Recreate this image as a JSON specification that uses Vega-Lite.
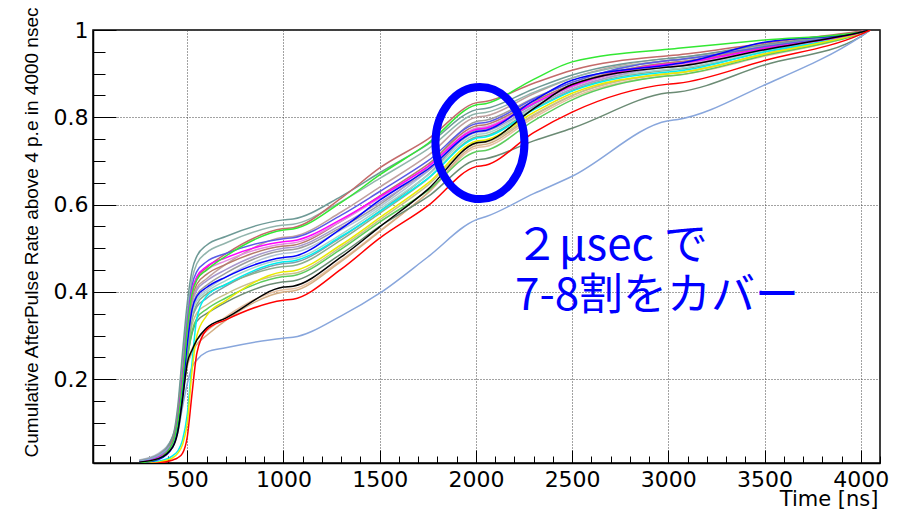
{
"$schema": "https://vega.github.io/schema/vega-lite/v6.json",
"width": 787, "height": 433,
"autosize": {"type": "none"},
"padding": {"left": 93, "top": 30, "right": 25, "bottom": 48},
"background": "white",
"config": {"view": {"stroke": "black", "strokeWidth": 1.5}},
"datasets": {
"curves": [
{"c":"c26","x":250,"y":0.013},{"c":"c26","x":350,"y":0.026},{"c":"c26","x":425,"y":0.065},{"c":"c26","x":450,"y":0.105},{"c":"c26","x":475,"y":0.18},{"c":"c26","x":500,"y":0.27},{"c":"c26","x":525,"y":0.339},{"c":"c26","x":550,"y":0.366},{"c":"c26","x":600,"y":0.385},{"c":"c26","x":700,"y":0.413},{"c":"c26","x":1000,"y":0.465},{"c":"c26","x":1050,"y":0.467},{"c":"c26","x":1300,"y":0.525},{"c":"c26","x":1500,"y":0.585},{"c":"c26","x":1750,"y":0.668},{"c":"c26","x":2000,"y":0.77},{"c":"c26","x":2050,"y":0.773},{"c":"c26","x":2300,"y":0.83},{"c":"c26","x":2500,"y":0.87},{"c":"c26","x":3000,"y":0.92},{"c":"c26","x":3050,"y":0.922},{"c":"c26","x":3500,"y":0.958},{"c":"c26","x":4000,"y":0.995},{"c":"c26","x":4050,"y":1},
{"c":"c25","x":250,"y":0.012},{"c":"c25","x":350,"y":0.024},{"c":"c25","x":425,"y":0.062},{"c":"c25","x":450,"y":0.11},{"c":"c25","x":475,"y":0.2},{"c":"c25","x":500,"y":0.3},{"c":"c25","x":525,"y":0.378},{"c":"c25","x":550,"y":0.409},{"c":"c25","x":600,"y":0.43},{"c":"c25","x":700,"y":0.463},{"c":"c25","x":1000,"y":0.525},{"c":"c25","x":1050,"y":0.527},{"c":"c25","x":1300,"y":0.583},{"c":"c25","x":1500,"y":0.64},{"c":"c25","x":1750,"y":0.712},{"c":"c25","x":2000,"y":0.8},{"c":"c25","x":2050,"y":0.803},{"c":"c25","x":2300,"y":0.854},{"c":"c25","x":2500,"y":0.89},{"c":"c25","x":3000,"y":0.935},{"c":"c25","x":3050,"y":0.937},{"c":"c25","x":3500,"y":0.965},{"c":"c25","x":4000,"y":0.996},{"c":"c25","x":4050,"y":1},
{"c":"c22","x":250,"y":0.012},{"c":"c22","x":350,"y":0.022},{"c":"c22","x":425,"y":0.055},{"c":"c22","x":450,"y":0.09},{"c":"c22","x":475,"y":0.17},{"c":"c22","x":500,"y":0.24},{"c":"c22","x":525,"y":0.27},{"c":"c22","x":550,"y":0.29},{"c":"c22","x":600,"y":0.31},{"c":"c22","x":700,"y":0.343},{"c":"c22","x":1000,"y":0.405},{"c":"c22","x":1050,"y":0.407},{"c":"c22","x":1300,"y":0.473},{"c":"c22","x":1500,"y":0.54},{"c":"c22","x":1750,"y":0.626},{"c":"c22","x":2000,"y":0.73},{"c":"c22","x":2050,"y":0.733},{"c":"c22","x":2300,"y":0.799},{"c":"c22","x":2500,"y":0.845},{"c":"c22","x":3000,"y":0.895},{"c":"c22","x":3050,"y":0.897},{"c":"c22","x":3500,"y":0.94},{"c":"c22","x":4000,"y":0.992},{"c":"c22","x":4050,"y":1},
{"c":"c21","x":250,"y":0.01},{"c":"c21","x":350,"y":0.02},{"c":"c21","x":425,"y":0.05},{"c":"c21","x":450,"y":0.085},{"c":"c21","x":475,"y":0.16},{"c":"c21","x":500,"y":0.23},{"c":"c21","x":525,"y":0.262},{"c":"c21","x":550,"y":0.28},{"c":"c21","x":600,"y":0.3},{"c":"c21","x":700,"y":0.335},{"c":"c21","x":1000,"y":0.4},{"c":"c21","x":1050,"y":0.402},{"c":"c21","x":1300,"y":0.47},{"c":"c21","x":1500,"y":0.538},{"c":"c21","x":1750,"y":0.627},{"c":"c21","x":2000,"y":0.735},{"c":"c21","x":2050,"y":0.738},{"c":"c21","x":2300,"y":0.804},{"c":"c21","x":2500,"y":0.85},{"c":"c21","x":3000,"y":0.9},{"c":"c21","x":3050,"y":0.902},{"c":"c21","x":3500,"y":0.945},{"c":"c21","x":4000,"y":0.993},{"c":"c21","x":4050,"y":1},
{"c":"c18","x":250,"y":0.012},{"c":"c18","x":350,"y":0.024},{"c":"c18","x":425,"y":0.06},{"c":"c18","x":450,"y":0.1},{"c":"c18","x":475,"y":0.18},{"c":"c18","x":500,"y":0.26},{"c":"c18","x":525,"y":0.325},{"c":"c18","x":550,"y":0.352},{"c":"c18","x":600,"y":0.37},{"c":"c18","x":700,"y":0.395},{"c":"c18","x":1000,"y":0.44},{"c":"c18","x":1050,"y":0.442},{"c":"c18","x":1300,"y":0.503},{"c":"c18","x":1500,"y":0.565},{"c":"c18","x":1750,"y":0.644},{"c":"c18","x":2000,"y":0.74},{"c":"c18","x":2050,"y":0.743},{"c":"c18","x":2300,"y":0.806},{"c":"c18","x":2500,"y":0.85},{"c":"c18","x":3000,"y":0.9},{"c":"c18","x":3050,"y":0.902},{"c":"c18","x":3500,"y":0.945},{"c":"c18","x":4000,"y":0.993},{"c":"c18","x":4050,"y":1},
{"c":"c15","x":250,"y":0.01},{"c":"c15","x":350,"y":0.02},{"c":"c15","x":425,"y":0.05},{"c":"c15","x":450,"y":0.09},{"c":"c15","x":475,"y":0.165},{"c":"c15","x":500,"y":0.257},{"c":"c15","x":525,"y":0.34},{"c":"c15","x":550,"y":0.372},{"c":"c15","x":600,"y":0.395},{"c":"c15","x":700,"y":0.417},{"c":"c15","x":1000,"y":0.458},{"c":"c15","x":1050,"y":0.46},{"c":"c15","x":1300,"y":0.519},{"c":"c15","x":1500,"y":0.58},{"c":"c15","x":1750,"y":0.659},{"c":"c15","x":2000,"y":0.755},{"c":"c15","x":2050,"y":0.758},{"c":"c15","x":2300,"y":0.819},{"c":"c15","x":2500,"y":0.862},{"c":"c15","x":3000,"y":0.908},{"c":"c15","x":3050,"y":0.91},{"c":"c15","x":3500,"y":0.95},{"c":"c15","x":4000,"y":0.993},{"c":"c15","x":4050,"y":1},
{"c":"c14","x":250,"y":0.012},{"c":"c14","x":350,"y":0.024},{"c":"c14","x":425,"y":0.062},{"c":"c14","x":450,"y":0.105},{"c":"c14","x":475,"y":0.185},{"c":"c14","x":500,"y":0.28},{"c":"c14","x":525,"y":0.352},{"c":"c14","x":550,"y":0.38},{"c":"c14","x":600,"y":0.4},{"c":"c14","x":700,"y":0.426},{"c":"c14","x":1000,"y":0.474},{"c":"c14","x":1050,"y":0.476},{"c":"c14","x":1300,"y":0.532},{"c":"c14","x":1500,"y":0.59},{"c":"c14","x":1750,"y":0.667},{"c":"c14","x":2000,"y":0.76},{"c":"c14","x":2050,"y":0.763},{"c":"c14","x":2300,"y":0.823},{"c":"c14","x":2500,"y":0.865},{"c":"c14","x":3000,"y":0.91},{"c":"c14","x":3050,"y":0.912},{"c":"c14","x":3500,"y":0.952},{"c":"c14","x":4000,"y":0.993},{"c":"c14","x":4050,"y":1},
{"c":"c12","x":250,"y":0.015},{"c":"c12","x":350,"y":0.03},{"c":"c12","x":425,"y":0.07},{"c":"c12","x":450,"y":0.11},{"c":"c12","x":475,"y":0.19},{"c":"c12","x":500,"y":0.283},{"c":"c12","x":525,"y":0.356},{"c":"c12","x":550,"y":0.385},{"c":"c12","x":600,"y":0.405},{"c":"c12","x":700,"y":0.434},{"c":"c12","x":1000,"y":0.488},{"c":"c12","x":1050,"y":0.49},{"c":"c12","x":1300,"y":0.542},{"c":"c12","x":1500,"y":0.595},{"c":"c12","x":1750,"y":0.676},{"c":"c12","x":2000,"y":0.775},{"c":"c12","x":2050,"y":0.778},{"c":"c12","x":2300,"y":0.835},{"c":"c12","x":2500,"y":0.875},{"c":"c12","x":3000,"y":0.925},{"c":"c12","x":3050,"y":0.927},{"c":"c12","x":3500,"y":0.958},{"c":"c12","x":4000,"y":0.994},{"c":"c12","x":4050,"y":1},
{"c":"c11","x":250,"y":0.014},{"c":"c11","x":350,"y":0.028},{"c":"c11","x":425,"y":0.07},{"c":"c11","x":450,"y":0.115},{"c":"c11","x":475,"y":0.2},{"c":"c11","x":500,"y":0.29},{"c":"c11","x":525,"y":0.365},{"c":"c11","x":550,"y":0.394},{"c":"c11","x":600,"y":0.415},{"c":"c11","x":700,"y":0.443},{"c":"c11","x":1000,"y":0.495},{"c":"c11","x":1050,"y":0.497},{"c":"c11","x":1300,"y":0.548},{"c":"c11","x":1500,"y":0.6},{"c":"c11","x":1750,"y":0.686},{"c":"c11","x":2000,"y":0.79},{"c":"c11","x":2050,"y":0.793},{"c":"c11","x":2300,"y":0.844},{"c":"c11","x":2500,"y":0.88},{"c":"c11","x":3000,"y":0.93},{"c":"c11","x":3050,"y":0.932},{"c":"c11","x":3500,"y":0.96},{"c":"c11","x":4000,"y":0.995},{"c":"c11","x":4050,"y":1},
{"c":"c10","x":250,"y":0.01},{"c":"c10","x":350,"y":0.02},{"c":"c10","x":425,"y":0.056},{"c":"c10","x":450,"y":0.1},{"c":"c10","x":475,"y":0.19},{"c":"c10","x":500,"y":0.298},{"c":"c10","x":525,"y":0.374},{"c":"c10","x":550,"y":0.404},{"c":"c10","x":600,"y":0.425},{"c":"c10","x":700,"y":0.451},{"c":"c10","x":1000,"y":0.5},{"c":"c10","x":1050,"y":0.502},{"c":"c10","x":1300,"y":0.553},{"c":"c10","x":1500,"y":0.605},{"c":"c10","x":1750,"y":0.677},{"c":"c10","x":2000,"y":0.765},{"c":"c10","x":2050,"y":0.768},{"c":"c10","x":2300,"y":0.825},{"c":"c10","x":2500,"y":0.865},{"c":"c10","x":3000,"y":0.915},{"c":"c10","x":3050,"y":0.917},{"c":"c10","x":3500,"y":0.955},{"c":"c10","x":4000,"y":0.993},{"c":"c10","x":4050,"y":1},
{"c":"c08","x":250,"y":0.011},{"c":"c08","x":350,"y":0.023},{"c":"c08","x":425,"y":0.062},{"c":"c08","x":450,"y":0.11},{"c":"c08","x":475,"y":0.2},{"c":"c08","x":500,"y":0.308},{"c":"c08","x":525,"y":0.387},{"c":"c08","x":550,"y":0.418},{"c":"c08","x":600,"y":0.44},{"c":"c08","x":700,"y":0.463},{"c":"c08","x":1000,"y":0.505},{"c":"c08","x":1050,"y":0.507},{"c":"c08","x":1300,"y":0.562},{"c":"c08","x":1500,"y":0.62},{"c":"c08","x":1750,"y":0.692},{"c":"c08","x":2000,"y":0.78},{"c":"c08","x":2050,"y":0.783},{"c":"c08","x":2300,"y":0.837},{"c":"c08","x":2500,"y":0.875},{"c":"c08","x":3000,"y":0.925},{"c":"c08","x":3050,"y":0.927},{"c":"c08","x":3500,"y":0.96},{"c":"c08","x":4000,"y":0.995},{"c":"c08","x":4050,"y":1},
{"c":"c07","x":250,"y":0.01},{"c":"c07","x":350,"y":0.021},{"c":"c07","x":425,"y":0.058},{"c":"c07","x":450,"y":0.105},{"c":"c07","x":475,"y":0.2},{"c":"c07","x":500,"y":0.315},{"c":"c07","x":525,"y":0.396},{"c":"c07","x":550,"y":0.428},{"c":"c07","x":600,"y":0.45},{"c":"c07","x":700,"y":0.471},{"c":"c07","x":1000,"y":0.51},{"c":"c07","x":1050,"y":0.512},{"c":"c07","x":1300,"y":0.562},{"c":"c07","x":1500,"y":0.615},{"c":"c07","x":1750,"y":0.687},{"c":"c07","x":2000,"y":0.775},{"c":"c07","x":2050,"y":0.778},{"c":"c07","x":2300,"y":0.832},{"c":"c07","x":2500,"y":0.87},{"c":"c07","x":3000,"y":0.918},{"c":"c07","x":3050,"y":0.92},{"c":"c07","x":3500,"y":0.956},{"c":"c07","x":4000,"y":0.993},{"c":"c07","x":4050,"y":1},
{"c":"c02","x":250,"y":0.012},{"c":"c02","x":350,"y":0.024},{"c":"c02","x":425,"y":0.065},{"c":"c02","x":450,"y":0.125},{"c":"c02","x":475,"y":0.24},{"c":"c02","x":500,"y":0.35},{"c":"c02","x":525,"y":0.43},{"c":"c02","x":550,"y":0.465},{"c":"c02","x":600,"y":0.49},{"c":"c02","x":700,"y":0.512},{"c":"c02","x":1000,"y":0.553},{"c":"c02","x":1050,"y":0.555},{"c":"c02","x":1300,"y":0.607},{"c":"c02","x":1500,"y":0.66},{"c":"c02","x":1750,"y":0.727},{"c":"c02","x":2000,"y":0.808},{"c":"c02","x":2050,"y":0.811},{"c":"c02","x":2300,"y":0.857},{"c":"c02","x":2500,"y":0.89},{"c":"c02","x":3000,"y":0.93},{"c":"c02","x":3050,"y":0.932},{"c":"c02","x":3500,"y":0.963},{"c":"c02","x":4000,"y":0.995},{"c":"c02","x":4050,"y":1},
{"c":"c01","x":250,"y":0.012},{"c":"c01","x":350,"y":0.025},{"c":"c01","x":425,"y":0.07},{"c":"c01","x":450,"y":0.136},{"c":"c01","x":475,"y":0.26},{"c":"c01","x":500,"y":0.375},{"c":"c01","x":525,"y":0.45},{"c":"c01","x":550,"y":0.482},{"c":"c01","x":600,"y":0.507},{"c":"c01","x":700,"y":0.527},{"c":"c01","x":1000,"y":0.565},{"c":"c01","x":1050,"y":0.567},{"c":"c01","x":1300,"y":0.619},{"c":"c01","x":1500,"y":0.673},{"c":"c01","x":1750,"y":0.738},{"c":"c01","x":2000,"y":0.817},{"c":"c01","x":2050,"y":0.82},{"c":"c01","x":2300,"y":0.865},{"c":"c01","x":2500,"y":0.897},{"c":"c01","x":3000,"y":0.935},{"c":"c01","x":3050,"y":0.937},{"c":"c01","x":3500,"y":0.967},{"c":"c01","x":4000,"y":0.996},{"c":"c01","x":4050,"y":1},
{"c":"c19","x":250,"y":0.011},{"c":"c19","x":350,"y":0.022},{"c":"c19","x":425,"y":0.058},{"c":"c19","x":450,"y":0.1},{"c":"c19","x":475,"y":0.175},{"c":"c19","x":500,"y":0.25},{"c":"c19","x":525,"y":0.305},{"c":"c19","x":550,"y":0.333},{"c":"c19","x":600,"y":0.35},{"c":"c19","x":700,"y":0.376},{"c":"c19","x":1000,"y":0.423},{"c":"c19","x":1050,"y":0.425},{"c":"c19","x":1300,"y":0.487},{"c":"c19","x":1500,"y":0.55},{"c":"c19","x":1750,"y":0.618},{"c":"c19","x":2000,"y":0.702},{"c":"c19","x":2050,"y":0.705},{"c":"c19","x":2300,"y":0.746},{"c":"c19","x":2500,"y":0.775},{"c":"c19","x":3000,"y":0.856},{"c":"c19","x":3050,"y":0.858},{"c":"c19","x":3500,"y":0.92},{"c":"c19","x":4000,"y":0.985},{"c":"c19","x":4050,"y":1},
{"c":"c04","x":250,"y":0.01},{"c":"c04","x":350,"y":0.022},{"c":"c04","x":425,"y":0.06},{"c":"c04","x":450,"y":0.11},{"c":"c04","x":475,"y":0.21},{"c":"c04","x":500,"y":0.32},{"c":"c04","x":525,"y":0.4},{"c":"c04","x":550,"y":0.432},{"c":"c04","x":600,"y":0.455},{"c":"c04","x":700,"y":0.487},{"c":"c04","x":1000,"y":0.545},{"c":"c04","x":1050,"y":0.547},{"c":"c04","x":1300,"y":0.615},{"c":"c04","x":1500,"y":0.684},{"c":"c04","x":1750,"y":0.75},{"c":"c04","x":2000,"y":0.833},{"c":"c04","x":2050,"y":0.836},{"c":"c04","x":2300,"y":0.878},{"c":"c04","x":2500,"y":0.908},{"c":"c04","x":3000,"y":0.941},{"c":"c04","x":3050,"y":0.943},{"c":"c04","x":3500,"y":0.97},{"c":"c04","x":4000,"y":0.997},{"c":"c04","x":4050,"y":1},
{"c":"c17","x":250,"y":0.009},{"c":"c17","x":350,"y":0.018},{"c":"c17","x":425,"y":0.048},{"c":"c17","x":450,"y":0.085},{"c":"c17","x":475,"y":0.16},{"c":"c17","x":500,"y":0.245},{"c":"c17","x":525,"y":0.31},{"c":"c17","x":550,"y":0.34},{"c":"c17","x":600,"y":0.36},{"c":"c17","x":700,"y":0.386},{"c":"c17","x":1000,"y":0.435},{"c":"c17","x":1050,"y":0.437},{"c":"c17","x":1300,"y":0.498},{"c":"c17","x":1500,"y":0.56},{"c":"c17","x":1750,"y":0.632},{"c":"c17","x":2000,"y":0.721},{"c":"c17","x":2050,"y":0.724},{"c":"c17","x":2300,"y":0.792},{"c":"c17","x":2500,"y":0.84},{"c":"c17","x":3000,"y":0.895},{"c":"c17","x":3050,"y":0.897},{"c":"c17","x":3500,"y":0.942},{"c":"c17","x":4000,"y":0.992},{"c":"c17","x":4050,"y":1},
{"c":"c05","x":250,"y":0.01},{"c":"c05","x":350,"y":0.02},{"c":"c05","x":425,"y":0.055},{"c":"c05","x":450,"y":0.105},{"c":"c05","x":475,"y":0.2},{"c":"c05","x":500,"y":0.33},{"c":"c05","x":525,"y":0.415},{"c":"c05","x":550,"y":0.447},{"c":"c05","x":600,"y":0.469},{"c":"c05","x":700,"y":0.488},{"c":"c05","x":1000,"y":0.522},{"c":"c05","x":1050,"y":0.524},{"c":"c05","x":1300,"y":0.576},{"c":"c05","x":1500,"y":0.63},{"c":"c05","x":1750,"y":0.7},{"c":"c05","x":2000,"y":0.785},{"c":"c05","x":2050,"y":0.788},{"c":"c05","x":2300,"y":0.842},{"c":"c05","x":2500,"y":0.88},{"c":"c05","x":3000,"y":0.93},{"c":"c05","x":3050,"y":0.932},{"c":"c05","x":3500,"y":0.962},{"c":"c05","x":4000,"y":0.995},{"c":"c05","x":4050,"y":1},
{"c":"c24","x":250,"y":0.012},{"c":"c24","x":350,"y":0.025},{"c":"c24","x":425,"y":0.055},{"c":"c24","x":450,"y":0.077},{"c":"c24","x":475,"y":0.136},{"c":"c24","x":500,"y":0.19},{"c":"c24","x":525,"y":0.228},{"c":"c24","x":550,"y":0.244},{"c":"c24","x":600,"y":0.262},{"c":"c24","x":700,"y":0.272},{"c":"c24","x":1000,"y":0.294},{"c":"c24","x":1050,"y":0.296},{"c":"c24","x":1300,"y":0.345},{"c":"c24","x":1500,"y":0.397},{"c":"c24","x":1750,"y":0.48},{"c":"c24","x":2000,"y":0.565},{"c":"c24","x":2050,"y":0.572},{"c":"c24","x":2300,"y":0.625},{"c":"c24","x":2500,"y":0.665},{"c":"c24","x":3000,"y":0.792},{"c":"c24","x":3050,"y":0.795},{"c":"c24","x":3500,"y":0.874},{"c":"c24","x":4000,"y":0.985},{"c":"c24","x":4050,"y":1},
{"c":"c13","x":250,"y":0.008},{"c":"c13","x":350,"y":0.012},{"c":"c13","x":425,"y":0.025},{"c":"c13","x":450,"y":0.035},{"c":"c13","x":475,"y":0.06},{"c":"c13","x":500,"y":0.12},{"c":"c13","x":525,"y":0.24},{"c":"c13","x":550,"y":0.34},{"c":"c13","x":600,"y":0.39},{"c":"c13","x":700,"y":0.417},{"c":"c13","x":1000,"y":0.469},{"c":"c13","x":1050,"y":0.471},{"c":"c13","x":1300,"y":0.527},{"c":"c13","x":1500,"y":0.584},{"c":"c13","x":1750,"y":0.66},{"c":"c13","x":2000,"y":0.752},{"c":"c13","x":2050,"y":0.755},{"c":"c13","x":2300,"y":0.817},{"c":"c13","x":2500,"y":0.86},{"c":"c13","x":3000,"y":0.904},{"c":"c13","x":3050,"y":0.906},{"c":"c13","x":3500,"y":0.95},{"c":"c13","x":4000,"y":0.993},{"c":"c13","x":4050,"y":1},
{"c":"c16","x":250,"y":0.007},{"c":"c16","x":350,"y":0.01},{"c":"c16","x":425,"y":0.02},{"c":"c16","x":450,"y":0.03},{"c":"c16","x":475,"y":0.05},{"c":"c16","x":500,"y":0.1},{"c":"c16","x":525,"y":0.22},{"c":"c16","x":550,"y":0.3},{"c":"c16","x":600,"y":0.345},{"c":"c16","x":700,"y":0.38},{"c":"c16","x":1000,"y":0.446},{"c":"c16","x":1050,"y":0.448},{"c":"c16","x":1300,"y":0.508},{"c":"c16","x":1500,"y":0.57},{"c":"c16","x":1750,"y":0.649},{"c":"c16","x":2000,"y":0.745},{"c":"c16","x":2050,"y":0.748},{"c":"c16","x":2300,"y":0.811},{"c":"c16","x":2500,"y":0.855},{"c":"c16","x":3000,"y":0.9},{"c":"c16","x":3050,"y":0.902},{"c":"c16","x":3500,"y":0.945},{"c":"c16","x":4000,"y":0.993},{"c":"c16","x":4050,"y":1},
{"c":"c06","x":250,"y":0.009},{"c":"c06","x":350,"y":0.02},{"c":"c06","x":425,"y":0.055},{"c":"c06","x":450,"y":0.1},{"c":"c06","x":475,"y":0.2},{"c":"c06","x":500,"y":0.32},{"c":"c06","x":525,"y":0.403},{"c":"c06","x":550,"y":0.435},{"c":"c06","x":600,"y":0.458},{"c":"c06","x":700,"y":0.478},{"c":"c06","x":1000,"y":0.515},{"c":"c06","x":1050,"y":0.517},{"c":"c06","x":1300,"y":0.566},{"c":"c06","x":1500,"y":0.618},{"c":"c06","x":1750,"y":0.687},{"c":"c06","x":2000,"y":0.772},{"c":"c06","x":2050,"y":0.775},{"c":"c06","x":2300,"y":0.832},{"c":"c06","x":2500,"y":0.872},{"c":"c06","x":3000,"y":0.922},{"c":"c06","x":3050,"y":0.924},{"c":"c06","x":3500,"y":0.958},{"c":"c06","x":4000,"y":0.994},{"c":"c06","x":4050,"y":1},
{"c":"c09","x":250,"y":0.008},{"c":"c09","x":350,"y":0.016},{"c":"c09","x":425,"y":0.045},{"c":"c09","x":450,"y":0.085},{"c":"c09","x":475,"y":0.17},{"c":"c09","x":500,"y":0.28},{"c":"c09","x":525,"y":0.36},{"c":"c09","x":550,"y":0.39},{"c":"c09","x":600,"y":0.41},{"c":"c09","x":700,"y":0.434},{"c":"c09","x":1000,"y":0.479},{"c":"c09","x":1050,"y":0.481},{"c":"c09","x":1300,"y":0.545},{"c":"c09","x":1500,"y":0.61},{"c":"c09","x":1750,"y":0.681},{"c":"c09","x":2000,"y":0.767},{"c":"c09","x":2050,"y":0.77},{"c":"c09","x":2300,"y":0.838},{"c":"c09","x":2500,"y":0.885},{"c":"c09","x":3000,"y":0.92},{"c":"c09","x":3050,"y":0.923},{"c":"c09","x":3500,"y":0.972},{"c":"c09","x":4000,"y":0.995},{"c":"c09","x":4050,"y":1},
{"c":"c03","x":250,"y":0.008},{"c":"c03","x":350,"y":0.018},{"c":"c03","x":425,"y":0.055},{"c":"c03","x":450,"y":0.1},{"c":"c03","x":475,"y":0.19},{"c":"c03","x":500,"y":0.315},{"c":"c03","x":525,"y":0.396},{"c":"c03","x":550,"y":0.428},{"c":"c03","x":600,"y":0.45},{"c":"c03","x":700,"y":0.482},{"c":"c03","x":1000,"y":0.542},{"c":"c03","x":1050,"y":0.544},{"c":"c03","x":1300,"y":0.605},{"c":"c03","x":1500,"y":0.668},{"c":"c03","x":1750,"y":0.74},{"c":"c03","x":2000,"y":0.828},{"c":"c03","x":2050,"y":0.831},{"c":"c03","x":2300,"y":0.887},{"c":"c03","x":2500,"y":0.927},{"c":"c03","x":3000,"y":0.956},{"c":"c03","x":3050,"y":0.958},{"c":"c03","x":3500,"y":0.977},{"c":"c03","x":4000,"y":0.995},{"c":"c03","x":4050,"y":1},
{"c":"c20","x":250,"y":0.01},{"c":"c20","x":350,"y":0.018},{"c":"c20","x":425,"y":0.045},{"c":"c20","x":450,"y":0.077},{"c":"c20","x":475,"y":0.152},{"c":"c20","x":500,"y":0.237},{"c":"c20","x":525,"y":0.267},{"c":"c20","x":550,"y":0.29},{"c":"c20","x":600,"y":0.317},{"c":"c20","x":700,"y":0.34},{"c":"c20","x":1000,"y":0.411},{"c":"c20","x":1050,"y":0.413},{"c":"c20","x":1300,"y":0.48},{"c":"c20","x":1500,"y":0.549},{"c":"c20","x":1750,"y":0.635},{"c":"c20","x":2000,"y":0.741},{"c":"c20","x":2050,"y":0.744},{"c":"c20","x":2300,"y":0.82},{"c":"c20","x":2500,"y":0.875},{"c":"c20","x":3000,"y":0.915},{"c":"c20","x":3050,"y":0.917},{"c":"c20","x":3500,"y":0.955},{"c":"c20","x":4000,"y":0.995},{"c":"c20","x":4050,"y":1},
{"c":"c23","x":250,"y":0.006},{"c":"c23","x":350,"y":0.008},{"c":"c23","x":425,"y":0.015},{"c":"c23","x":450,"y":0.02},{"c":"c23","x":475,"y":0.03},{"c":"c23","x":500,"y":0.068},{"c":"c23","x":525,"y":0.168},{"c":"c23","x":550,"y":0.26},{"c":"c23","x":600,"y":0.313},{"c":"c23","x":700,"y":0.336},{"c":"c23","x":1000,"y":0.381},{"c":"c23","x":1050,"y":0.383},{"c":"c23","x":1300,"y":0.452},{"c":"c23","x":1500,"y":0.523},{"c":"c23","x":1750,"y":0.597},{"c":"c23","x":2000,"y":0.687},{"c":"c23","x":2050,"y":0.69},{"c":"c23","x":2300,"y":0.765},{"c":"c23","x":2500,"y":0.812},{"c":"c23","x":3000,"y":0.876},{"c":"c23","x":3050,"y":0.878},{"c":"c23","x":3500,"y":0.93},{"c":"c23","x":4000,"y":0.99},{"c":"c23","x":4050,"y":1}
],
"notes": [
{"x": 2203, "y": 0.4732, "t": "２μsec で\n7-8割をカバー"}
],
"ring": [{"x": 2021, "y": 0.741}]
},
"resolve": {"axis": {"x": "independent", "y": "independent"}},
"layer": [
{
"data": {"name": "curves"},
"mark": {"type": "line", "strokeWidth": 1.5, "clip": true, "strokeJoin": "round", "interpolate": "monotone"},
"encoding": {
"x": {"field": "x", "type": "quantitative", "scale": {"domain": [10, 4100], "nice": false, "zero": false},
 "axis": {"values": [500,1000,1500,2000,2500,3000,3500,4000], "format": "d", "grid": true, "gridDash": [1,2], "gridColor": "#444", "gridWidth": 1, "gridOpacity": 1,
  "tickSize": -13, "tickColor": "black", "tickWidth": 1, "domainColor": "black", "domainWidth": 1.5,
  "labelFont": "DejaVu Sans", "labelFontSize": 22, "labelColor": "black", "labelPadding": 36, "labelBaseline": "alphabetic", "labelFlush": false, "labelOverlap": false,
  "title": "Time [ns]", "titleFont": "DejaVu Sans", "titleFontSize": 21, "titleFontWeight": "normal", "titleColor": "black",
  "titleX": 785, "titleY": 42, "titleAlign": "right", "titleBaseline": "alphabetic"}},
"y": {"field": "y", "type": "quantitative", "scale": {"domain": [0.008, 1], "nice": false, "zero": false},
 "axis": {"values": [0.2,0.4,0.6,0.8,1], "format": "~g", "grid": true, "gridDash": [1,2], "gridColor": "#444", "gridWidth": 1, "gridOpacity": 1,
  "tickSize": -23, "tickColor": "black", "tickWidth": 1, "domainColor": "black", "domainWidth": 1.5,
  "labelFont": "DejaVu Sans", "labelFontSize": 22, "labelColor": "black", "labelPadding": 28, "labelBaseline": "middle", "labelFlush": false, "labelOverlap": false,
  "title": "Cumulative AfterPulse Rate above 4 p.e in 4000 nsec", "titleFont": "Liberation Sans", "titleFontSize": 19, "titleFontWeight": "normal", "titleColor": "black",
  "titleAngle": 270, "titleX": -56, "titleY": -23, "titleAlign": "right", "titleBaseline": "alphabetic"}},
"color": {"field": "c", "type": "nominal", "legend": null,
 "scale": {"domain": ["c01","c02","c03","c04","c05","c06","c07","c08","c09","c10","c11","c12","c13","c14","c15","c16","c17","c18","c19","c20","c21","c22","c23","c24","c25","c26"],
  "range": ["#6e9a96","#92b4ac","#33e833","#c46a6a","#5a5ae6","#ff00ff","#e58ae0","#b57a6a","#0000ff","#a898cc","#9e9e9e","#b4c4d8","#00f0f0","#a4d4ca","#8cae8c","#eaea00","#5ccc5c","#c8c08c","#6b8b74","#000000","#d4ae84","#e6bfa0","#ff0000","#88a6dc","#c0a0a0","#7fa0a8"]}}
}
},
{
"data": {"name": "notes"},
"mark": {"type": "text", "align": "left", "baseline": "alphabetic", "font": "Noto Sans CJK JP", "fontSize": 44, "lineHeight": 50, "lineBreak": "\n", "color": "#0000ff"},
"encoding": {
"x": {"field": "x", "type": "quantitative", "scale": {"domain": [10, 4100], "nice": false, "zero": false},
 "axis": {"orient": "bottom", "values": [100,200,300,400,600,700,800,900,1100,1200,1300,1400,1600,1700,1800,1900,2100,2200,2300,2400,2600,2700,2800,2900,3100,3200,3300,3400,3600,3700,3800,3900,4100], "grid": false, "labels": false, "domain": false, "tickSize": -7, "tickColor": "black", "tickWidth": 1, "title": null}},
"y": {"field": "y", "type": "quantitative", "scale": {"domain": [0.008, 1], "nice": false, "zero": false},
 "axis": {"orient": "left", "values": [0.05,0.1,0.15,0.25,0.3,0.35,0.45,0.5,0.55,0.65,0.7,0.75,0.85,0.9,0.95], "grid": false, "labels": false, "domain": false, "tickSize": -12, "tickColor": "black", "tickWidth": 1, "title": null}},
"text": {"field": "t", "type": "nominal"}
}
},
{
"data": {"name": "ring"},
"mark": {"type": "point", "shape": "M0,-1 A0.795,1 0 1,1 0,1 A0.795,1 0 1,1 0,-1 Z", "size": 12544, "filled": false, "color": "#0000ff", "strokeWidth": 8, "opacity": 1},
"encoding": {
"x": {"field": "x", "type": "quantitative", "scale": {"domain": [10, 4100], "nice": false, "zero": false}, "axis": null},
"y": {"field": "y", "type": "quantitative", "scale": {"domain": [0.008, 1], "nice": false, "zero": false}, "axis": null}
}
}
]
}
